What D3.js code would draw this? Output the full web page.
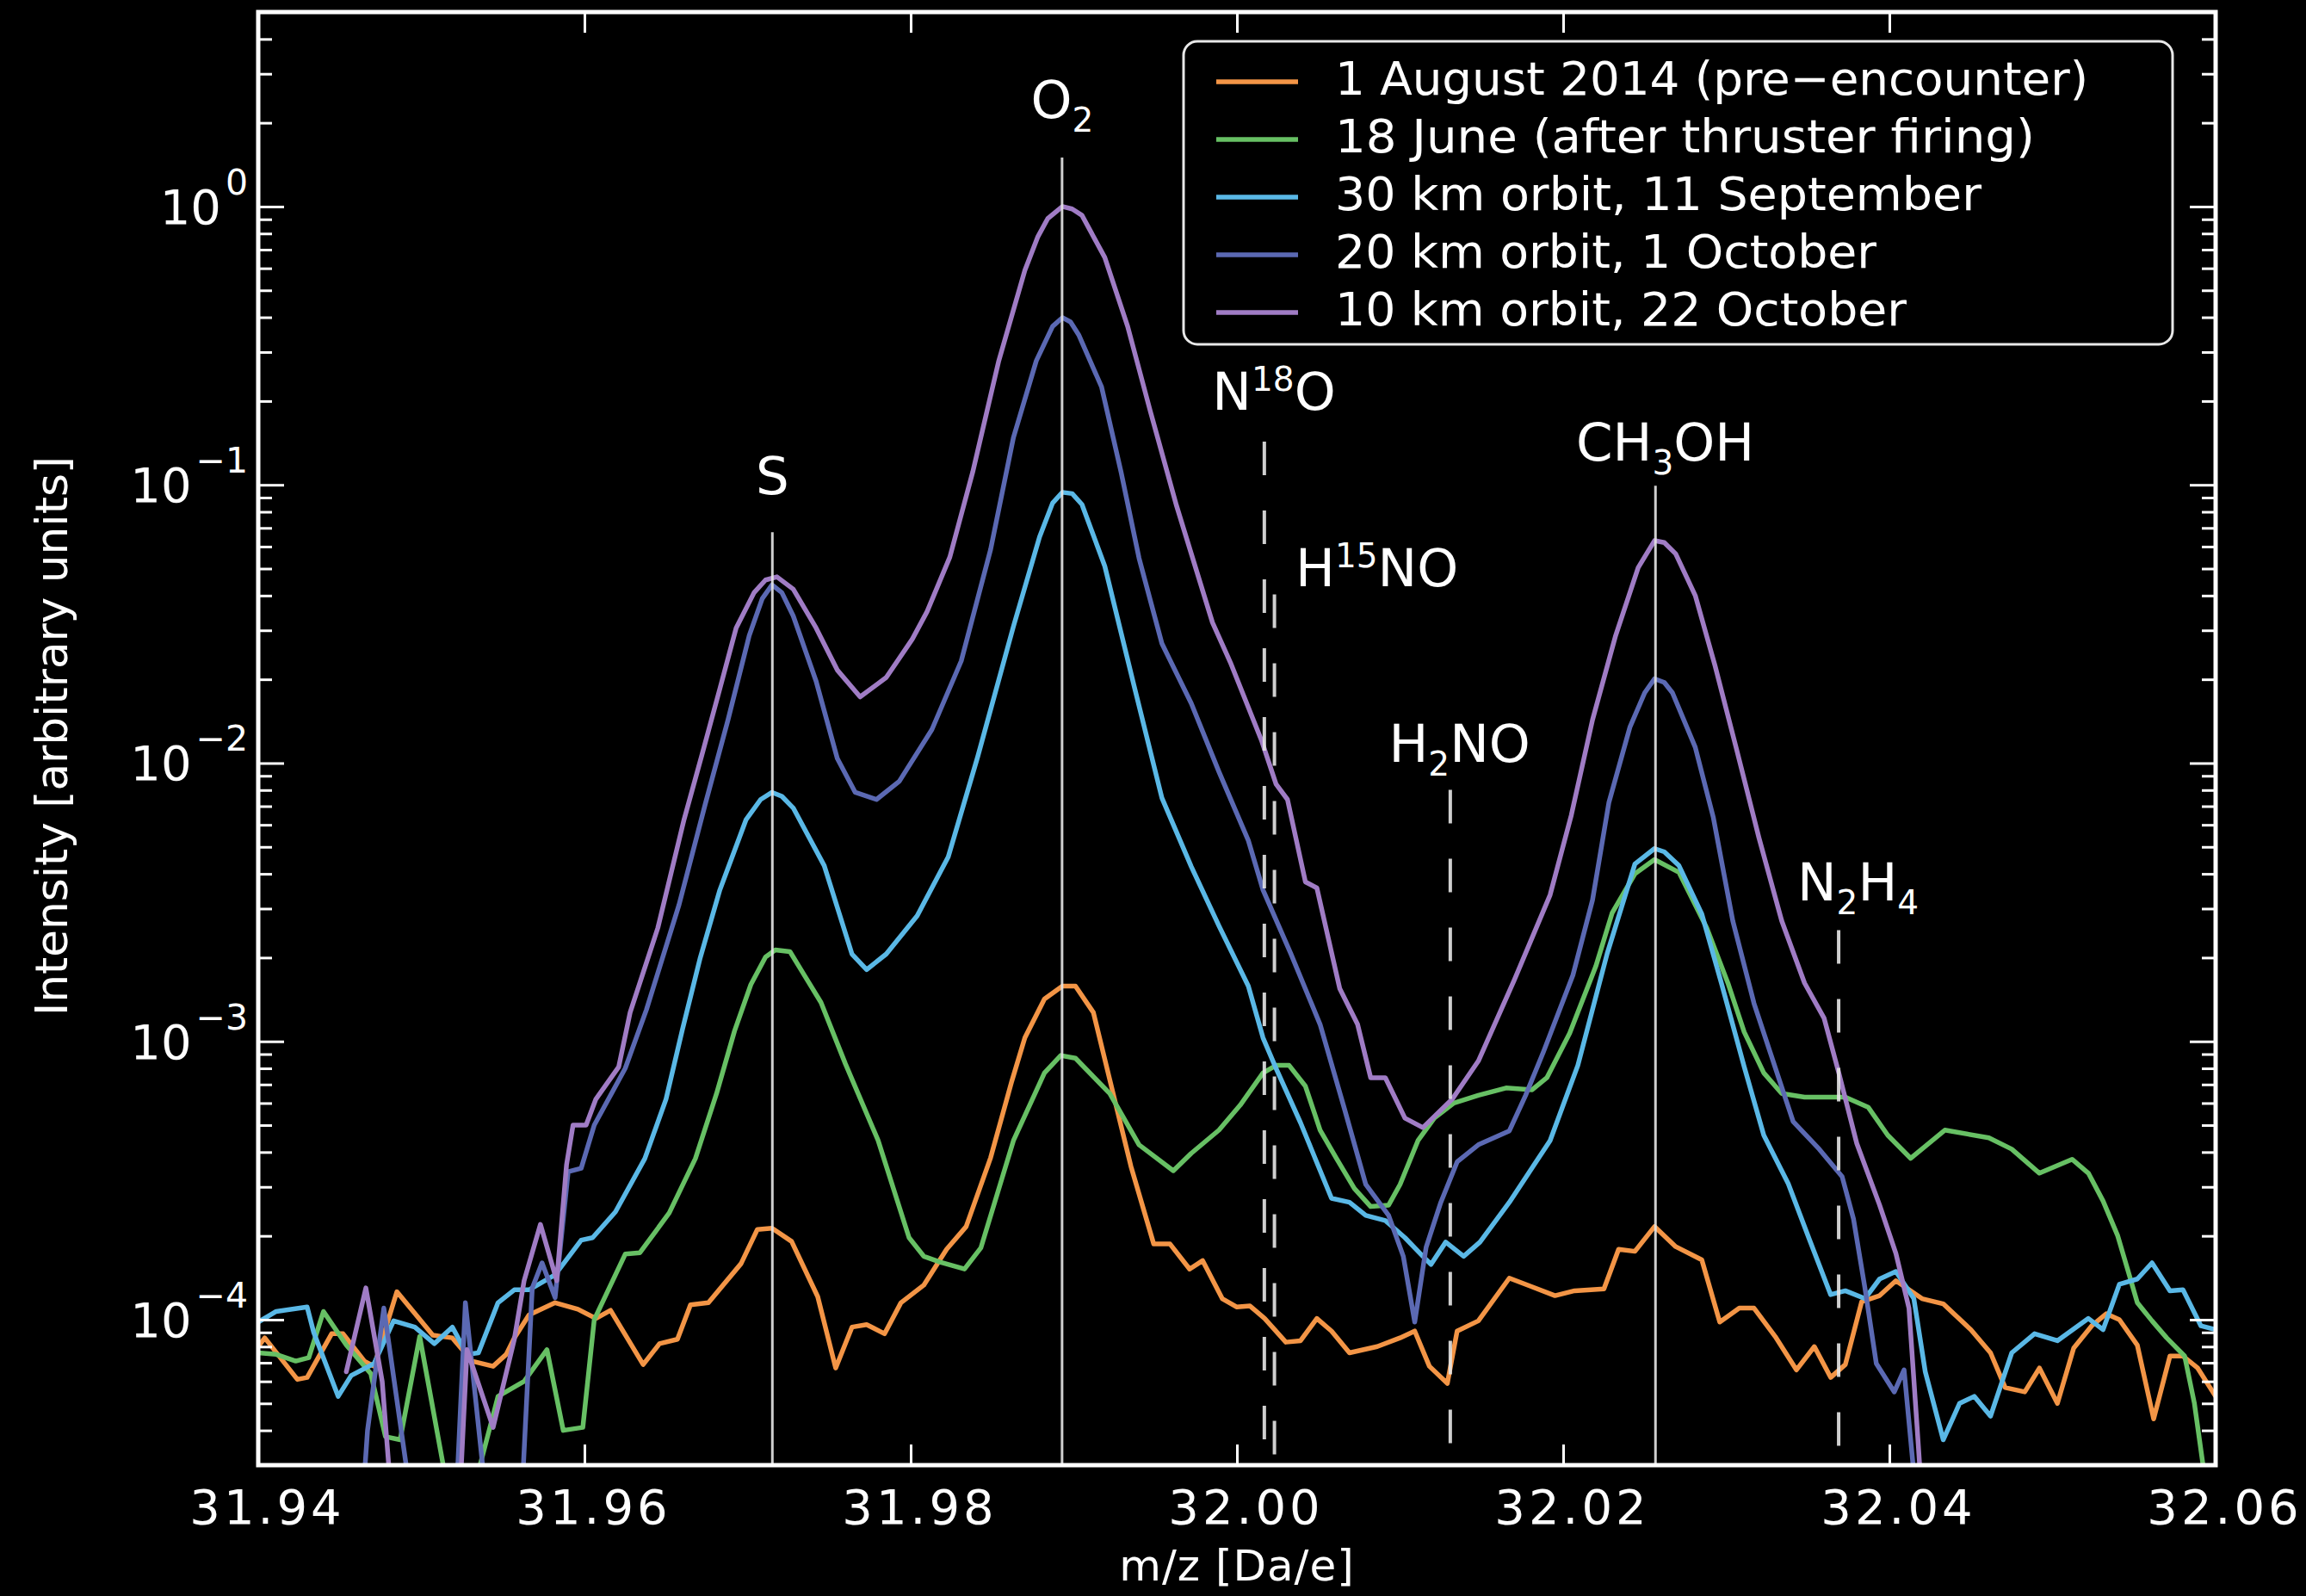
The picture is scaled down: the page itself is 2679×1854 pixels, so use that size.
<!DOCTYPE html>
<html><head><meta charset="utf-8">
<script src="https://cdn.jsdelivr.net/npm/d3@7"></script>
<style>html,body{margin:0;padding:0;background:#000;}svg{display:block;}</style>
</head><body>
<svg id="chart" width="2679" height="1854"></svg>
<script>
// ---------------- DATA ----------------
const xTicks = [31.94, 31.96, 31.98, 32.00, 32.02, 32.04, 32.06];
const yMajorTicks = [1e-4, 1e-3, 1e-2, 1e-1, 1e0];
const yMajorExp = ["−4", "−3", "−2", "−1", "0"];

const seriesNames = [
  "1 August 2014 (pre\u2212encounter)",
  "18 June (after thruster firing)",
  "30 km orbit, 11 September",
  "20 km orbit, 1 October",
  "10 km orbit, 22 October"
];

// [m/z, intensity]
const aug2014 = [[31.9400,8.0e-5],[31.9404,8.6e-5],[31.9424,6.1e-5],[31.9430,6.2e-5],[31.9445,8.9e-5],[31.9452,8.9e-5],[31.9465,7.1e-5],[31.9471,6.8e-5],[31.9485,1.26e-4],[31.9507,8.8e-5],[31.9519,8.6e-5],[31.9531,7.1e-5],[31.9544,6.8e-5],[31.9552,7.5e-5],[31.9557,8.6e-5],[31.9566,1.04e-4],[31.9582,1.15e-4],[31.9596,1.09e-4],[31.9607,1.01e-4],[31.9616,1.08e-4],[31.9636,6.9e-5],[31.9646,8.2e-5],[31.9657,8.5e-5],[31.9665,1.13e-4],[31.9676,1.15e-4],[31.9696,1.59e-4],[31.9706,2.11e-4],[31.9715,2.13e-4],[31.9727,1.91e-4],[31.9743,1.21e-4],[31.9754,6.7e-5],[31.9764,9.4e-5],[31.9773,9.6e-5],[31.9784,8.9e-5],[31.9794,1.15e-4],[31.9808,1.33e-4],[31.9822,1.79e-4],[31.9834,2.16e-4],[31.9849,3.82e-4],[31.9862,7.2e-4],[31.9870,1.03e-3],[31.9882,1.42e-3],[31.9893,1.58e-3],[31.9901,1.58e-3],[31.9912,1.27e-3],[31.9922,7.3e-4],[31.9935,3.56e-4],[31.9949,1.87e-4],[31.9959,1.87e-4],[31.9971,1.52e-4],[31.9979,1.63e-4],[31.9991,1.19e-4],[32.0000,1.11e-4],[32.0008,1.12e-4],[32.0017,1.01e-4],[32.0030,8.3e-5],[32.0039,8.4e-5],[32.0049,1.01e-4],[32.0058,9.1e-5],[32.0069,7.6e-5],[32.0086,8.0e-5],[32.0100,8.6e-5],[32.0109,9.1e-5],[32.0118,6.8e-5],[32.0129,5.9e-5],[32.0135,9.1e-5],[32.0148,9.9e-5],[32.0167,1.41e-4],[32.0195,1.22e-4],[32.0207,1.27e-4],[32.0225,1.29e-4],[32.0234,1.79e-4],[32.0244,1.76e-4],[32.0256,2.16e-4],[32.0269,1.83e-4],[32.0285,1.64e-4],[32.0296,9.8e-5],[32.0308,1.10e-4],[32.0317,1.10e-4],[32.0330,8.7e-5],[32.0343,6.6e-5],[32.0354,8.0e-5],[32.0364,6.2e-5],[32.0373,6.9e-5],[32.0383,1.16e-4],[32.0394,1.22e-4],[32.0404,1.38e-4],[32.0420,1.19e-4],[32.0433,1.14e-4],[32.0450,9.2e-5],[32.0462,7.6e-5],[32.0471,5.7e-5],[32.0483,5.5e-5],[32.0492,6.7e-5],[32.0503,5.0e-5],[32.0513,7.9e-5],[32.0524,9.5e-5],[32.0533,1.05e-4],[32.0541,1.0e-4],[32.0552,8.1e-5],[32.0562,4.4e-5],[32.0572,7.4e-5],[32.0580,7.4e-5],[32.0589,6.7e-5],[32.0600,5.3e-5]];

const june18 = [[31.9400,7.6e-5],[31.9411,7.5e-5],[31.9423,7.1e-5],[31.9431,7.3e-5],[31.9440,1.07e-4],[31.9454,8.1e-5],[31.9469,6.4e-5],[31.9478,3.8e-5],[31.9487,3.7e-5],[31.9499,8.7e-5],[31.9517,2.3e-5],[31.9530,2.2e-5],[31.9547,5.3e-5],[31.9563,6.0e-5],[31.9577,7.8e-5],[31.9587,4.0e-5],[31.9599,4.1e-5],[31.9606,1.0e-4],[31.9625,1.72e-4],[31.9634,1.74e-4],[31.9652,2.42e-4],[31.9668,3.79e-4],[31.9681,6.5e-4],[31.9692,1.09e-3],[31.9702,1.60e-3],[31.9711,2.01e-3],[31.9717,2.13e-3],[31.9726,2.10e-3],[31.9734,1.76e-3],[31.9745,1.38e-3],[31.9760,8.3e-4],[31.9780,4.41e-4],[31.9799,1.97e-4],[31.9808,1.69e-4],[31.9818,1.61e-4],[31.9833,1.52e-4],[31.9843,1.81e-4],[31.9863,4.4e-4],[31.9882,7.7e-4],[31.9892,8.9e-4],[31.9901,8.7e-4],[31.9922,6.5e-4],[31.9940,4.25e-4],[31.9961,3.43e-4],[31.9972,3.96e-4],[31.9989,4.8e-4],[32.0002,5.9e-4],[32.0016,7.7e-4],[32.0024,8.2e-4],[32.0032,8.2e-4],[32.0042,6.9e-4],[32.0051,4.8e-4],[32.0061,3.8e-4],[32.0072,2.96e-4],[32.0082,2.55e-4],[32.0093,2.58e-4],[32.0100,3.06e-4],[32.0111,4.4e-4],[32.0121,5.3e-4],[32.0133,6.0e-4],[32.0148,6.4e-4],[32.0165,6.8e-4],[32.0181,6.7e-4],[32.0190,7.4e-4],[32.0204,1.07e-3],[32.0220,1.86e-3],[32.0230,2.89e-3],[32.0244,4.0e-3],[32.0256,4.5e-3],[32.0271,4.05e-3],[32.0288,2.56e-3],[32.0301,1.62e-3],[32.0311,1.08e-3],[32.0323,7.7e-4],[32.0334,6.5e-4],[32.0348,6.3e-4],[32.0373,6.3e-4],[32.0387,5.8e-4],[32.0399,4.6e-4],[32.0413,3.8e-4],[32.0434,4.8e-4],[32.0461,4.5e-4],[32.0475,4.1e-4],[32.0492,3.36e-4],[32.0512,3.77e-4],[32.0522,3.36e-4],[32.0531,2.67e-4],[32.0540,2.0e-4],[32.0547,1.45e-4],[32.0552,1.15e-4],[32.0561,9.9e-5],[32.0570,8.6e-5],[32.0581,7.4e-5],[32.0587,5.0e-5],[32.0593,2.8e-5],[32.0600,1.5e-5]];

const sep11 = [[31.9400,9.8e-5],[31.9411,1.07e-4],[31.9430,1.11e-4],[31.9434,9.0e-5],[31.9449,5.3e-5],[31.9457,6.3e-5],[31.9471,6.95e-5],[31.9483,9.9e-5],[31.9496,9.4e-5],[31.9508,8.2e-5],[31.9519,9.4e-5],[31.9528,7.5e-5],[31.9535,7.6e-5],[31.9547,1.15e-4],[31.9557,1.28e-4],[31.9566,1.28e-4],[31.9582,1.45e-4],[31.9598,1.93e-4],[31.9605,1.97e-4],[31.9619,2.44e-4],[31.9637,3.79e-4],[31.9650,6.2e-4],[31.9660,1.1e-3],[31.9671,2.0e-3],[31.9683,3.5e-3],[31.9699,6.25e-3],[31.9708,7.4e-3],[31.9715,7.85e-3],[31.9721,7.6e-3],[31.9728,6.9e-3],[31.9747,4.28e-3],[31.9764,2.06e-3],[31.9773,1.81e-3],[31.9785,2.06e-3],[31.9804,2.83e-3],[31.9823,4.6e-3],[31.9841,1.05e-2],[31.9863,3.1e-2],[31.9879,6.5e-2],[31.9887,8.6e-2],[31.9893,9.4e-2],[31.9899,9.3e-2],[31.9905,8.5e-2],[31.9919,5.1e-2],[31.9937,1.89e-2],[31.9954,7.5e-3],[31.9972,4.25e-3],[31.9989,2.6e-3],[32.0007,1.58e-3],[32.0016,1.03e-3],[32.0024,8.0e-4],[32.0039,5.1e-4],[32.0058,2.73e-4],[32.0069,2.64e-4],[32.0079,2.37e-4],[32.0091,2.27e-4],[32.0103,1.97e-4],[32.0114,1.69e-4],[32.0119,1.58e-4],[32.0128,1.9e-4],[32.0139,1.69e-4],[32.0149,1.9e-4],[32.0167,2.64e-4],[32.0192,4.4e-4],[32.0209,8.2e-4],[32.0227,2.07e-3],[32.0244,4.34e-3],[32.0256,4.93e-3],[32.0262,4.8e-3],[32.0271,4.28e-3],[32.0285,2.87e-3],[32.0297,1.62e-3],[32.0311,8.1e-4],[32.0323,4.6e-4],[32.0338,3.08e-4],[32.0351,1.94e-4],[32.0364,1.23e-4],[32.0373,1.27e-4],[32.0385,1.19e-4],[32.0394,1.40e-4],[32.0404,1.49e-4],[32.0415,1.19e-4],[32.0422,6.5e-5],[32.0433,3.7e-5],[32.0443,5.0e-5],[32.0452,5.3e-5],[32.0462,4.5e-5],[32.0475,7.6e-5],[32.0489,8.9e-5],[32.0503,8.4e-5],[32.0522,1.01e-4],[32.0531,9.2e-5],[32.0541,1.34e-4],[32.0552,1.4e-4],[32.0561,1.6e-4],[32.0572,1.27e-4],[32.0580,1.28e-4],[32.0591,9.5e-5],[32.0600,9.2e-5]];

const oct01 = [[31.9400,1.5e-5],[31.9462,1.5e-5],[31.9467,4.0e-5],[31.9477,1.1e-4],[31.9498,1.5e-5],[31.9520,1.5e-5],[31.9527,1.15e-4],[31.9543,1.5e-5],[31.9560,1.5e-5],[31.9568,1.3e-4],[31.9574,1.6e-4],[31.9582,1.2e-4],[31.9590,3.4e-4],[31.9598,3.5e-4],[31.9606,5.0e-4],[31.9625,8.0e-4],[31.9638,1.3e-3],[31.9658,3.1e-3],[31.9674,7.1e-3],[31.9688,1.43e-2],[31.9701,2.87e-2],[31.9709,3.9e-2],[31.9715,4.37e-2],[31.9721,4.1e-2],[31.9728,3.38e-2],[31.9742,1.97e-2],[31.9755,1.04e-2],[31.9766,7.85e-3],[31.9779,7.4e-3],[31.9793,8.6e-3],[31.9813,1.32e-2],[31.9831,2.33e-2],[31.9849,5.86e-2],[31.9863,0.148],[31.9877,0.279],[31.9887,0.371],[31.9893,0.399],[31.9898,0.385],[31.9903,0.346],[31.9917,0.225],[31.9929,0.111],[31.9940,5.45e-2],[31.9954,2.69e-2],[31.9972,1.64e-2],[31.9989,9.3e-3],[32.0007,5.27e-3],[32.0016,3.5e-3],[32.0033,2.07e-3],[32.0051,1.15e-3],[32.0066,5.7e-4],[32.0079,3.06e-4],[32.0093,2.37e-4],[32.0102,1.69e-4],[32.0109,9.8e-5],[32.0116,1.82e-4],[32.0125,2.64e-4],[32.0135,3.69e-4],[32.0148,4.25e-4],[32.0167,4.77e-4],[32.0177,6.4e-4],[32.0188,9.2e-4],[32.0206,1.73e-3],[32.0218,3.22e-3],[32.0228,7.2e-3],[32.0241,1.35e-2],[32.0250,1.79e-2],[32.0256,2.01e-2],[32.0262,1.95e-2],[32.0267,1.79e-2],[32.0281,1.14e-2],[32.0292,6.4e-3],[32.0304,2.71e-3],[32.0317,1.37e-3],[32.0327,9.1e-4],[32.0341,5.15e-4],[32.0357,4.1e-4],[32.0371,3.27e-4],[32.0378,2.3e-4],[32.0385,1.3e-4],[32.0392,6.95e-5],[32.0403,5.5e-5],[32.0409,6.6e-5],[32.0415,2.8e-5],[32.0420,1.5e-5],[32.0600,1.5e-5]];

const oct22 = [[31.9454,6.5e-5],[31.9466,1.3e-4],[31.9476,6.0e-5],[31.9484,1.5e-5],[31.9522,1.5e-5],[31.9528,7.8e-5],[31.9544,4.1e-5],[31.9557,8.5e-5],[31.9563,1.38e-4],[31.9573,2.2e-4],[31.9583,1.38e-4],[31.9589,3.6e-4],[31.9593,5.0e-4],[31.9601,5.0e-4],[31.9607,6.2e-4],[31.9621,8.1e-4],[31.9628,1.27e-3],[31.9645,2.56e-3],[31.9661,6.25e-3],[31.9672,1.07e-2],[31.9683,1.85e-2],[31.9693,3.06e-2],[31.9704,4.1e-2],[31.9711,4.55e-2],[31.9718,4.67e-2],[31.9728,4.22e-2],[31.9742,3.06e-2],[31.9755,2.16e-2],[31.9769,1.73e-2],[31.9785,2.03e-2],[31.9801,2.79e-2],[31.9810,3.5e-2],[31.9824,5.5e-2],[31.9838,0.111],[31.9854,0.279],[31.9870,0.59],[31.9878,0.78],[31.9884,0.905],[31.9893,1.0],[31.9899,0.98],[31.9905,0.93],[31.9919,0.656],[31.9933,0.371],[31.9947,0.183],[31.9963,8.4e-2],[31.9985,3.2e-2],[31.9996,2.3e-2],[32.0015,1.21e-2],[32.0024,8.4e-3],[32.0031,7.4e-3],[32.0042,3.74e-3],[32.0049,3.56e-3],[32.0063,1.55e-3],[32.0074,1.15e-3],[32.0082,7.4e-4],[32.0091,7.4e-4],[32.0103,5.3e-4],[32.0114,4.9e-4],[32.0132,6.2e-4],[32.0148,8.5e-4],[32.0170,1.66e-3],[32.0192,3.36e-3],[32.0205,6.5e-3],[32.0218,1.43e-2],[32.0232,2.85e-2],[32.0246,5.04e-2],[32.0256,6.3e-2],[32.0262,6.2e-2],[32.0269,5.65e-2],[32.0281,4.0e-2],[32.0293,2.25e-2],[32.0306,1.14e-2],[32.0320,5.4e-3],[32.0334,2.71e-3],[32.0348,1.62e-3],[32.0360,1.21e-3],[32.0369,7.7e-4],[32.0380,4.3e-4],[32.0394,2.58e-4],[32.0404,1.73e-4],[32.0412,1.1e-4],[32.0417,4.1e-5],[32.0422,1.5e-5],[32.0600,1.5e-5]];

const seriesData = [aug2014, june18, sep11, oct01, oct22];
const seriesColors = ["#f39546", "#67c064", "#5ab8e6", "#5b69b3", "#a07cc5"];

// species marker lines: m/z, top end (intensity), dashed?
const markerMz  = [31.97152, 31.98928, 32.00168, 32.00230, 32.01308, 32.02566, 32.03689];
const markerTop = [0.0676, 1.50, 0.143, 0.0404, 0.00802, 0.0993, 0.00251];
const markerDashed = [false, false, true, true, true, false, true];

// species labels: parts (n normal, b sub, p sup), position (m/z, intensity of baseline), anchor
const labelParts = [
  [["n","S"]],
  [["n","O"],["b","2"]],
  [["n","N"],["p","18"],["n","O"]],
  [["n","H"],["p","15"],["n","NO"]],
  [["n","H"],["b","2"],["n","NO"]],
  [["n","CH"],["b","3"],["n","OH"]],
  [["n","N"],["b","2"],["n","H"],["b","4"]]
];
const labelMz  = [31.97152, 31.98928, 32.00227, 32.00359, 32.00931, 32.02079, 32.03435];
const labelVal = [0.0925, 2.08, 0.186, 0.0431, 0.01007, 0.122, 0.00322];
const labelAnchor = ["middle","middle","middle","start","start","start","start"];

// ---------------- CHART ----------------
const W = 2679, H = 1854;
const M = {l: 300, r: 2574, t: 14, b: 1702};
const svg = d3.select("#chart");
svg.append("rect").attr("width", W).attr("height", H).attr("fill", "#000");

const x = d3.scaleLinear().domain([31.94, 32.06]).range([M.l, M.r]);
const y = d3.scaleLog().domain([3e-5, 5]).range([M.b, M.t]);

svg.append("defs").append("clipPath").attr("id", "plotclip")
  .append("rect").attr("x", M.l).attr("y", M.t).attr("width", M.r - M.l).attr("height", M.b - M.t);

const plot = svg.append("g").attr("clip-path", "url(#plotclip)");

const line = d3.line().x(d => x(d[0])).y(d => y(d[1]));
seriesData.forEach((s, i) => {
  plot.append("path").datum(s).attr("d", line)
    .attr("fill", "none").attr("stroke", seriesColors[i])
    .attr("stroke-width", 5.5).attr("stroke-linejoin", "round").attr("stroke-linecap", "round");
});

// marker lines
markerMz.forEach((m, i) => {
  plot.append("line")
    .attr("x1", x(m)).attr("x2", x(m))
    .attr("y1", y(markerTop[i])).attr("y2", M.b)
    .attr("stroke", "#e6e6e6").attr("stroke-width", markerDashed[i] ? 4 : 3)
    .attr("stroke-dasharray", markerDashed[i] ? "39,41" : null)
    .attr("opacity", 0.9);
});

// labels
const labelFont = "'DejaVu Sans', Verdana, sans-serif";
labelParts.forEach((parts, i) => {
  const t = svg.append("text")
    .attr("x", x(labelMz[i])).attr("y", y(labelVal[i]))
    .attr("text-anchor", labelAnchor[i])
    .attr("fill", "#fff").attr("font-family", labelFont).attr("font-size", 61);
  let shift = 0;
  parts.forEach(([k, s]) => {
    const target = k === "b" ? 16 : (k === "p" ? -22 : 0);
    t.append("tspan").attr("dy", target - shift)
      .attr("font-size", k === "n" ? 61 : 39).text(s);
    shift = target;
  });
});

// axes
const tickFont = "'DejaVu Sans', Verdana, sans-serif";
function styleAxis(g) {
  g.select(".domain").remove();
  g.selectAll(".tick line").attr("stroke", "#fff").attr("stroke-width", 3);
}
const gxb = svg.append("g").attr("transform", `translate(0,${M.b})`)
  .call(d3.axisBottom(x).tickValues(xTicks).tickSize(-24).tickPadding(28).tickFormat(d3.format(".2f")));
styleAxis(gxb);
gxb.selectAll(".tick text").attr("fill", "#fff").attr("font-size", 56)
  .attr("font-family", tickFont).attr("letter-spacing", 4).attr("dx", 10);

const gxt = svg.append("g").attr("transform", `translate(0,${M.t})`)
  .call(d3.axisTop(x).tickValues(xTicks).tickSize(-24).tickFormat(""));
styleAxis(gxt);

// minor y ticks
const yMinor = [];
for (let e = -5; e <= 0; e++) for (let k = 2; k <= 9; k++) {
  const v = k * Math.pow(10, e);
  if (v >= 3e-5 && v <= 5) yMinor.push(v);
}
[["L", M.l], ["R", M.r]].forEach(([side, pos]) => {
  const mk = side === "L" ? d3.axisLeft : d3.axisRight;
  const gmin = svg.append("g").attr("transform", `translate(${pos},0)`)
    .call(mk(y).tickValues(yMinor).tickSize(-16).tickFormat(""));
  styleAxis(gmin);
  const gmaj = svg.append("g").attr("transform", `translate(${pos},0)`)
    .call(mk(y).tickValues(yMajorTicks).tickSize(-30).tickFormat(""));
  styleAxis(gmaj);
});

// y tick labels 10^n
yMajorTicks.forEach((v, i) => {
  const t = svg.append("text").attr("x", 288).attr("y", y(v) + 20)
    .attr("text-anchor", "end").attr("fill", "#fff")
    .attr("font-family", tickFont).attr("font-size", 56);
  t.append("tspan").text("10");
  t.append("tspan").attr("dy", -34).attr("dx", 5).attr("font-size", 41).text(yMajorExp[i]);
});

// frame
svg.append("rect").attr("x", M.l).attr("y", M.t).attr("width", M.r - M.l).attr("height", M.b - M.t)
  .attr("fill", "none").attr("stroke", "#fff").attr("stroke-width", 5);

// axis titles
const condFont = "'DejaVu Sans Condensed', 'Liberation Sans Narrow', 'Roboto Condensed', 'DejaVu Sans', sans-serif";
svg.append("text").attr("transform", `translate(78,855) rotate(-90)`)
  .attr("text-anchor", "middle").attr("fill", "#fff")
  .attr("font-family", condFont).attr("font-size", 52)
  .attr("textLength", 650).attr("lengthAdjust", "spacingAndGlyphs")
  .text("Intensity [arbitrary units]");

svg.append("text").attr("x", (M.l + M.r) / 2).attr("y", 1836)
  .attr("text-anchor", "middle").attr("fill", "#fff")
  .attr("font-family", tickFont).attr("font-size", 50).attr("letter-spacing", 1)
  .text("m/z [Da/e]");

// legend
const lg = svg.append("g");
lg.append("rect").attr("x", 1375).attr("y", 48).attr("width", 1149).attr("height", 352)
  .attr("rx", 16).attr("ry", 16).attr("fill", "#000").attr("fill-opacity", 0.85)
  .attr("stroke", "#e8e8e8").attr("stroke-width", 3);
const legendWidths = [875, 813, 751, 629, 664];
seriesNames.forEach((name, i) => {
  const cy = 91 + i * 67;
  lg.append("line").attr("x1", 1413).attr("x2", 1508).attr("y1", cy + 4).attr("y2", cy + 4)
    .attr("stroke", seriesColors[i]).attr("stroke-width", 5.5);
  lg.append("text").attr("x", 1551).attr("y", cy + 19)
    .attr("fill", "#fff").attr("font-family", condFont).attr("font-size", 54)
    .attr("textLength", legendWidths[i]).attr("lengthAdjust", "spacingAndGlyphs")
    .text(name);
});
</script>
</body></html>
